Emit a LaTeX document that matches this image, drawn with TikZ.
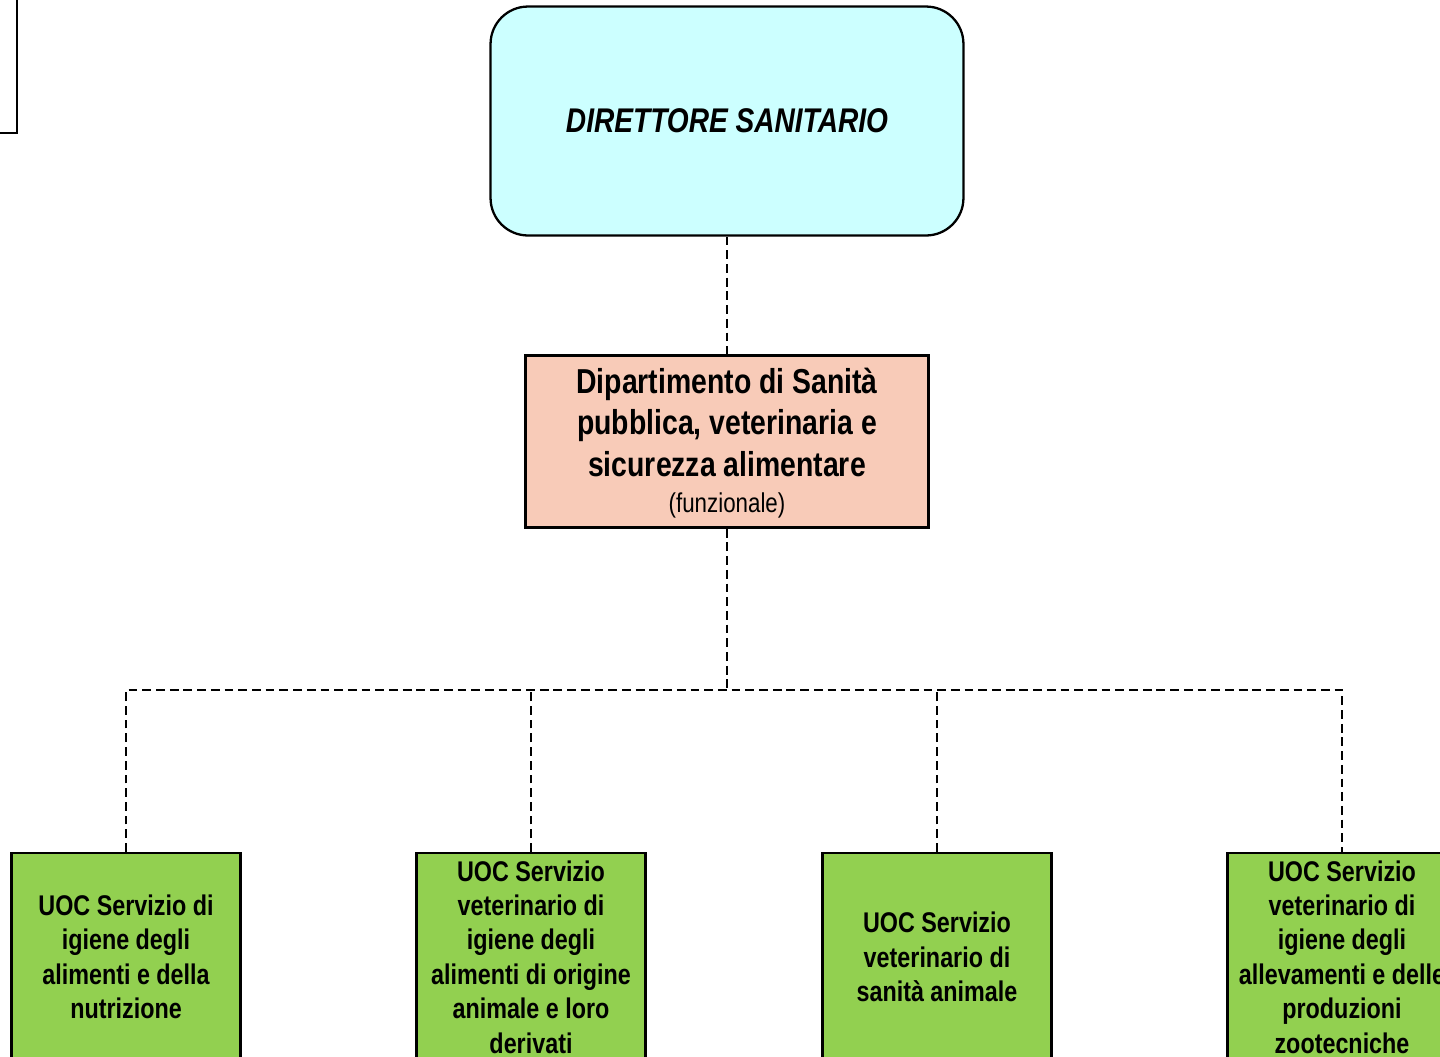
\documentclass[tikz,border=0pt]{standalone}
\usepackage{fontspec}
\setmainfont{Liberation Sans}[FakeStretch=0.82]
\usepackage{xcolor}
\usepackage{tikz}

\definecolor{dircyan}{HTML}{CCFFFF}
\definecolor{dippeach}{HTML}{F8CBB8}
\definecolor{uocgreen}{HTML}{92D050}

\begin{document}
\begin{tikzpicture}[
  x=0.02cm, y=-0.02cm,
  dirbox/.style={draw,line width=1.3pt,rounded corners=0.75cm,fill=dircyan,
                 minimum width=9.46cm,minimum height=4.58cm,align=center,
                 font=\fontsize{19.5}{23}\selectfont\bfseries\itshape},
  dipbox/.style={draw,line width=1.4pt,fill=dippeach,minimum width=8.06cm,
                 minimum height=3.44cm,align=center,inner sep=0pt,
                 font=\fontsize{19.7}{23.5}\selectfont\bfseries},
  uocbox/.style={draw,line width=1.4pt,fill=uocgreen,minimum width=4.58cm,
                 minimum height=4.16cm,align=center,inner sep=0pt,
                 font=\fontsize{16.2}{19.6}\selectfont\bfseries},
  conn/.style={line width=1.1pt,dash pattern=on 5pt off 2.8pt}
]
\useasboundingbox (0,0) rectangle (1440,1056);
\clip (0,0) rectangle (1440,1056);

% box cut off at the top left
\node[draw,line width=1.2pt,fill=white,anchor=south east,minimum width=4cm,
      minimum height=4cm] (prec) at (18,134) {};

\node[dirbox] (dir) at (727,121) {DIRETTORE SANITARIO};
\node[dipbox] (dip) at (727,441.5)
  {\rule{0pt}{16pt}Dipartimento di Sanità\\pubblica, veterinaria e\\sicurezza alimentare\\[-3pt]
   {\normalfont\fontsize{15.5}{18}\selectfont (funzionale)}};

\node[uocbox] (u1) at (126,957)
  {UOC Servizio di\\igiene degli\\alimenti e della\\nutrizione};
\node[uocbox] (u2) at (531,957)
  {UOC Servizio\\veterinario di\\igiene degli\\alimenti di origine\\animale e loro\\derivati};
\node[uocbox] (u3) at (937,957)
  {UOC Servizio\\veterinario di\\sanità animale};
\node[uocbox] (u4) at (1342,957)
  {UOC Servizio\\veterinario di\\igiene degli\\allevamenti e delle\\produzioni\\zootecniche};

\coordinate (bus) at (727,690);
\draw[conn] (dir.south) -- (dip.north);
\draw[conn] (dip.south) -- (bus);
\draw[conn] (u1.north) |- (bus) -| (u4.north);
\draw[conn] (u2.north) -- (u2.north |- bus);
\draw[conn] (u3.north) -- (u3.north |- bus);
\end{tikzpicture}
\end{document}
